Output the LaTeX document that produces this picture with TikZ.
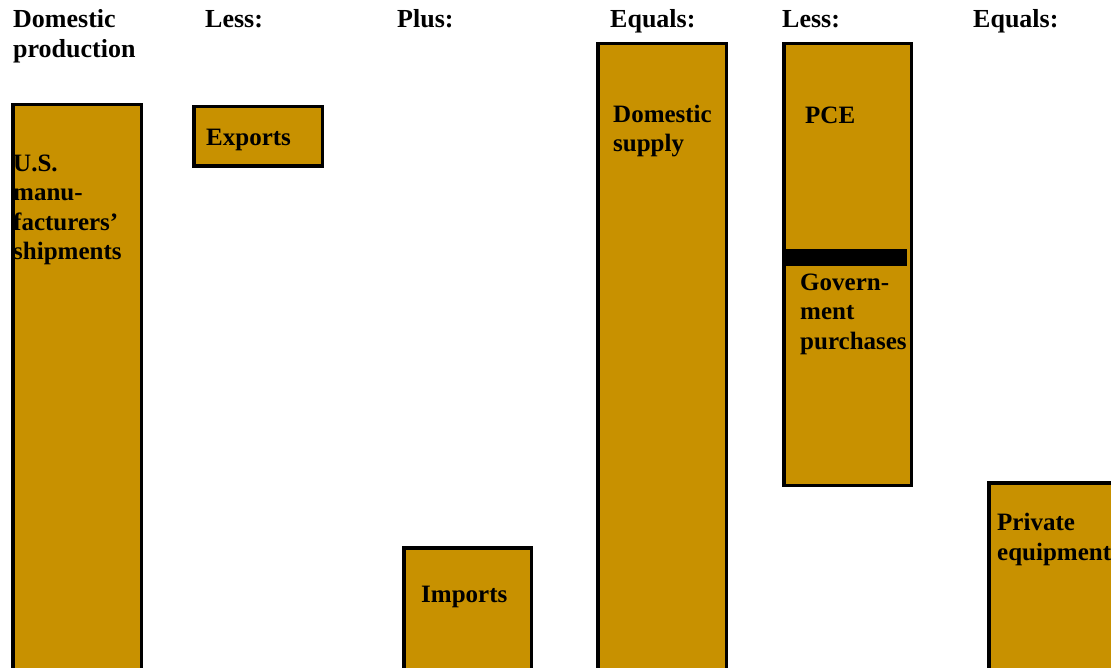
\documentclass[tikz,border=0pt]{standalone}
\usepackage{fontspec}
\setmainfont{Liberation Serif}
\definecolor{bar}{RGB}{200,145,0}
\tikzset{
  barbox/.style={draw=black, line width=3.5pt, fill=bar},
  lbl/.style={anchor=base west, inner sep=0pt, align=left, font=\fontsize{25}{29.5}\selectfont\bfseries},
  hdr/.style={lbl, font=\fontsize{26}{30}\selectfont\bfseries},
}
\begin{document}
\begin{tikzpicture}[x=1pt,y=-1pt]
\useasboundingbox (0,0) rectangle (1111,668);
\clip (0,0) rectangle (1111,668);
% headers (base anchor = last line's baseline)
\node[hdr] (h1) at (13,58) {Domestic\\production};
\node[hdr] (h2) at (205,28) {Less:};
\node[hdr] (h3) at (397,28) {Plus:};
\node[hdr] (h4) at (610,28) {Equals:};
\node[hdr] (h5) at (782,28) {Less:};
\node[hdr] (h6) at (973,28) {Equals:};
% bars
\draw[barbox] (12.75,104.75) rectangle (141.25,690);
\draw[barbox] (193.75,106.75) rectangle (322.25,166.25);
\draw[barbox] (403.75,547.75) rectangle (531.25,690);
\draw[barbox] (597.75,43.75) rectangle (726.25,690);
\draw[barbox] (783.75,43.75) rectangle (911.25,485.25);
\draw[barbox] (988.75,482.75) rectangle (1130,690);
\fill[black] (785,249) rectangle (907,266);
% labels
\node[lbl] (t1) at (13,260) {U.S.\\manu-\\facturers'\\shipments};
\node[lbl] (t2) at (206,146) {Exports};
\node[lbl] (t3) at (421,602) {Imports};
\node[lbl] (t4) at (613,152) {Domestic\\supply};
\node[lbl] (t5) at (805,124) {PCE};
\node[lbl] (t6) at (800,349) {Govern-\\ment\\purchases};
\node[lbl] (t7) at (997,560) {Private\\equipment};
\end{tikzpicture}
\end{document}
